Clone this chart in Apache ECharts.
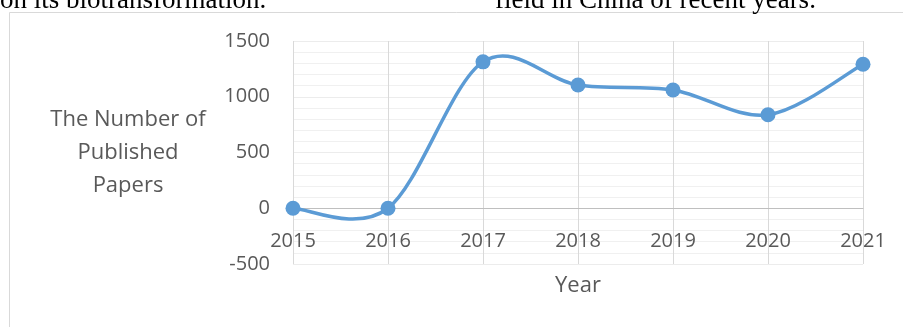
<!DOCTYPE html>
<html>
<head>
<meta charset="utf-8">
<script src="https://cdn.jsdelivr.net/npm/echarts@6/dist/echarts.min.js"></script>
<style>
html,body{margin:0;padding:0;background:#fff;}
#c{width:903px;height:327px;}
</style>
</head>
<body>
<div id="c"></div>
<script>
var years = ['2015', '2016', '2017', '2018', '2019', '2020', '2021'];
var papers = [0, 0, 1313, 1105, 1061, 838, 1292];
var yTicks = { min: -500, max: 1500, interval: 500 };
var yTitle = 'The Number of\nPublished\nPapers';
var xTitle = 'Year';
var topLeftText = 'on its biotransformation.';
var topRightText = 'field in China of recent years.';

var chart = echarts.init(document.getElementById('c'), null, { renderer: 'canvas' });
var txt = '#595959';
var uiFont = '"Open Sans", sans-serif';
var lineColor = '#5B9BD5';
var gridTop = 41, gridBottom = 63;
var gridH = 327 - gridTop - gridBottom;
var zeroOffset = -((0 - yTicks.min) / (yTicks.max - yTicks.min)) * gridH;

var pairs = papers.map(function (v, i) { return [i, v]; });

function renderSeg(params, api) {
  var i = params.dataIndex;
  var n = papers.length;
  if (i >= n - 1) return null;
  function P(k) {
    k = Math.max(0, Math.min(n - 1, k));
    return api.coord([k, papers[k]]);
  }
  var p0 = P(i - 1), p1 = P(i), p2 = P(i + 1), p3 = P(i + 2);
  var c1x = p1[0] + (p2[0] - p0[0]) / 6, c1y = p1[1] + (p2[1] - p0[1]) / 6;
  var c2x = p2[0] - (p3[0] - p1[0]) / 6, c2y = p2[1] - (p3[1] - p1[1]) / 6;
  return {
    type: 'bezierCurve',
    shape: { x1: p1[0], y1: p1[1], x2: p2[0], y2: p2[1], cpx1: c1x, cpy1: c1y, cpx2: c2x, cpy2: c2y },
    style: { stroke: lineColor, lineWidth: 3.5, fill: null, lineCap: 'round' }
  };
}

chart.setOption({
  animation: false,
  backgroundColor: '#fff',
  grid: { left: 293, right: 40, top: gridTop, bottom: gridBottom, containLabel: false },
  xAxis: {
    type: 'category',
    data: years,
    boundaryGap: false,
    offset: zeroOffset,
    axisLine: { onZero: false, lineStyle: { color: '#bfbfbf', width: 1 } },
    axisTick: { show: false },
    axisLabel: { color: txt, fontSize: 20, fontFamily: uiFont, margin: 23 },
    splitLine: { show: true, lineStyle: { color: '#d9d9d9', width: 1 } }
  },
  yAxis: {
    type: 'value',
    min: yTicks.min,
    max: yTicks.max,
    interval: yTicks.interval,
    axisLine: { show: false },
    axisTick: { show: false },
    axisLabel: { color: txt, fontSize: 20, fontFamily: uiFont, margin: 23, formatter: function (v) { return String(v); } },
    splitLine: { show: true, lineStyle: { color: '#ececec', width: 1 } },
    minorTick: { show: false, splitNumber: 5 },
    minorSplitLine: { show: true, lineStyle: { color: '#f0f0f0', width: 1 } }
  },
  series: [{
    type: 'custom',
    data: pairs,
    renderItem: renderSeg,
    encode: { x: 0, y: 1 },
    z: 4
  }, {
    type: 'scatter',
    data: pairs,
    symbol: 'circle',
    symbolSize: 15,
    itemStyle: { color: lineColor, opacity: 1 },
    z: 5
  }],
  graphic: [
    { type: 'rect', shape: { x: 9.5, y: 12.5, width: 1000, height: 400 }, style: { fill: 'none', stroke: '#d9d9d9', lineWidth: 1 }, z: -1 },
    { type: 'text', x: 0, y: 14, style: { text: topLeftText, font: '27px "Liberation Serif", serif', fill: '#000', textAlign: 'left', textVerticalAlign: 'bottom' } },
    { type: 'text', x: 495, y: 14, style: { text: topRightText, font: '27px "Liberation Serif", serif', fill: '#000', textAlign: 'left', textVerticalAlign: 'bottom' } },
    { type: 'text', x: 128, y: 153, style: { text: yTitle, font: '22px ' + uiFont, fill: txt, textAlign: 'center', textVerticalAlign: 'middle', lineHeight: 33 } },
    { type: 'text', x: 578, y: 286, style: { text: xTitle, font: '22px ' + uiFont, fill: txt, textAlign: 'center', textVerticalAlign: 'middle' } }
  ]
});
</script>
</body>
</html>
